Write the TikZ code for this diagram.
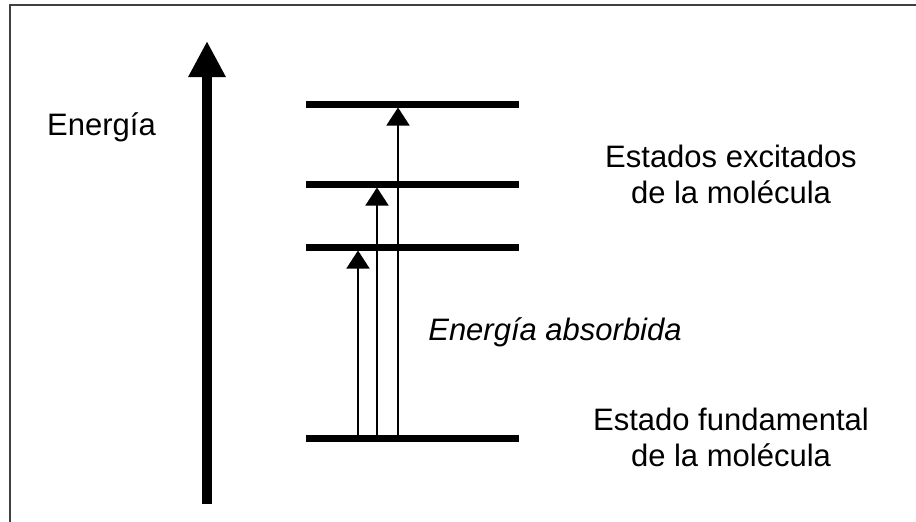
\documentclass[tikz,border=0pt]{standalone}
\usepackage{fontspec}
\setmainfont{Liberation Sans}
\usetikzlibrary{arrows.meta}
\begin{document}
\begin{tikzpicture}[x=1pt,y=-1pt,
  lbl/.style={font=\fontsize{31}{36}\selectfont, inner sep=0pt, align=center},
  levelline/.style={line width=7pt},
  bigarrow/.style={line width=10pt, -{Triangle[length=36pt,width=35pt]}},
  trans/.style={line width=1.5pt, -{Triangle[length=18pt,width=23pt]}},
  frameline/.style={draw=black!75, line width=2pt}]
\useasboundingbox (0,0) rectangle (916,522);
% frame (top and left edges)
\draw[frameline] (9.5,522) -- (9.5,5) -- (916,5);
% energy axis
\coordinate (axbot) at (207,504);
\coordinate (axtop) at (207,41);
\draw[bigarrow] (axbot) -- (axtop);
% levels
\coordinate (g0l) at (306,438); \coordinate (g0r) at (519,438);
\coordinate (e1l) at (306,247); \coordinate (e1r) at (519,247);
\coordinate (e2l) at (306,184); \coordinate (e2r) at (519,184);
\coordinate (e3l) at (306,104); \coordinate (e3r) at (519,104);
\draw[levelline] (g0l) -- (g0r);
\draw[levelline] (e1l) -- (e1r);
\draw[levelline] (e2l) -- (e2r);
\draw[levelline] (e3l) -- (e3r);
% transitions
\coordinate (t1s) at (358,438); \coordinate (t1e) at (358,250.5);
\coordinate (t2s) at (377,438); \coordinate (t2e) at (377,187.5);
\coordinate (t3s) at (398,438); \coordinate (t3e) at (398,107.5);
\draw[trans] (t1s) -- (t1e);
\draw[trans] (t2s) -- (t2e);
\draw[trans] (t3s) -- (t3e);
% labels
\node[lbl, anchor=base] (energia) at (101.5,135) {Energía};
\node[lbl, anchor=base] (exc) at (731,203) {Estados excitados\\de la molécula};
\node[lbl, anchor=base, font=\fontsize{31}{36}\selectfont\itshape] (abs) at (555,340) {Energía absorbida};
\node[lbl, anchor=base] (fund) at (731,466) {Estado fundamental\\de la molécula};
\end{tikzpicture}
\end{document}
